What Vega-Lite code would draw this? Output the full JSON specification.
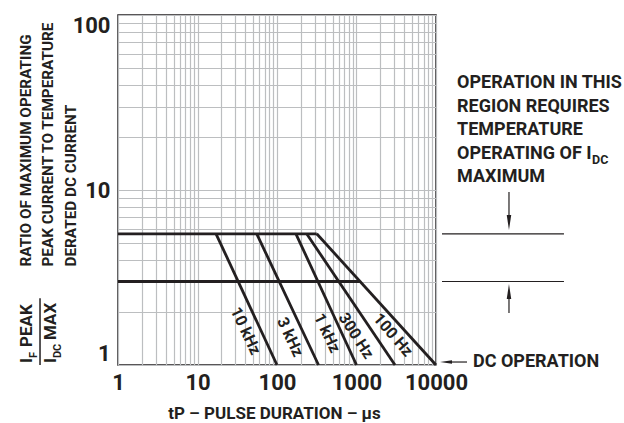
{
  "$schema": "https://vega.github.io/schema/vega-lite/v6.json",
  "width": 318,
  "height": 350,
  "autosize": {"type": "none"},
  "padding": {"left": 118, "top": 15, "right": 188, "bottom": 58},
  "background": "white",
  "config": {
    "view": {"stroke": "#231f20", "strokeWidth": 1.5},
    "font": "Roboto, Liberation Sans, sans-serif",
    "text": {"font": "Roboto, Liberation Sans, sans-serif", "fontWeight": "bold", "color": "#231f20"},
    "axis": {
      "labelFont": "Roboto, Liberation Sans, sans-serif",
      "titleFont": "Roboto, Liberation Sans, sans-serif",
      "labelFontWeight": "bold",
      "titleFontWeight": "bold",
      "labelColor": "#231f20",
      "titleColor": "#231f20",
      "labelFontSize": 22,
      "ticks": false,
      "domain": false,
      "grid": true,
      "gridColor": "#bcbec0",
      "gridWidth": 1.2,
      "labelOverlap": false
    }
  },
  "encoding": {
    "x": {
      "field": "x",
      "type": "quantitative",
      "scale": {"type": "log", "domain": [1, 10000], "nice": false},
      "axis": {
        "values": [1,2,3,4,5,6,7,8,9,10,20,30,40,50,60,70,80,90,100,200,300,400,500,600,700,800,900,1000,2000,3000,4000,5000,6000,7000,8000,9000,10000],
        "format": "d",
        "labelExpr": "datum.value==1||datum.value==10||datum.value==100||datum.value==1000||datum.value==10000 ? datum.label : ''",
        "labelPadding": 7,
        "labelFlush": false,
        "title": "tP   –  PULSE DURATION  –  µs",
        "titleFontSize": 17,
        "titleX": 156,
        "titleY": 53,
        "titleAlign": "center",
        "titleBaseline": "alphabetic"
      }
    },
    "y": {
      "field": "y",
      "type": "quantitative",
      "scale": {"type": "log", "domain": [1, 100], "nice": false},
      "axis": {
        "values": [1,2,3,4,5,6,7,8,9,10,20,30,40,50,60,70,80,90,100],
        "format": "d",
        "labelExpr": "datum.value==1||datum.value==10||datum.value==100 ? datum.label : ''",
        "labelPadding": 8,
        "labelFlush": true,
        "title": ["RATIO OF MAXIMUM OPERATING", "PEAK CURRENT TO TEMPERATURE", "DERATED DC CURRENT"],
        "titleFontSize": 15.3,
        "titleLineHeight": 22.5,
        "titleAngle": -90,
        "titleAlign": "left",
        "titleBaseline": "top",
        "titleX": -100,
        "titleY": 251
      }
    }
  },
  "layer": [
    {
      "data": {"values": [
        {"s": "a", "x": 1, "y": 5.62}, {"s": "a", "x": 316, "y": 5.62},
        {"s": "b", "x": 1, "y": 3}, {"s": "b", "x": 1107, "y": 3},
        {"s": "10 kHz", "x": 17.1, "y": 5.62}, {"s": "10 kHz", "x": 100, "y": 1},
        {"s": "3 kHz", "x": 55.6, "y": 5.62}, {"s": "3 kHz", "x": 333, "y": 1},
        {"s": "1 kHz", "x": 173, "y": 5.62}, {"s": "1 kHz", "x": 1000, "y": 1},
        {"s": "300 Hz", "x": 236, "y": 5.62}, {"s": "300 Hz", "x": 3050, "y": 1},
        {"s": "100 Hz", "x": 316, "y": 5.62}, {"s": "100 Hz", "x": 10000, "y": 1}
      ]},
      "mark": {"type": "line", "color": "#231f20", "strokeWidth": 2.8, "strokeCap": "butt"},
      "encoding": {"detail": {"field": "s"}}
    },
    {
      "data": {"values": [
        {"text": "10 kHz", "x": 40.2, "y": 1.564},
        {"text": "3 kHz", "x": 145.8, "y": 1.445},
        {"text": "1 kHz", "x": 425.6, "y": 1.523}
      ]},
      "mark": {"type": "text", "fontSize": 16, "angle": 65, "align": "center", "baseline": "middle"},
      "encoding": {"text": {"field": "text"}}
    },
    {
      "data": {"values": [{"text": "300 Hz", "x": 986, "y": 1.465}]},
      "mark": {"type": "text", "fontSize": 16, "angle": 57, "align": "center", "baseline": "middle"},
      "encoding": {"text": {"field": "text"}}
    },
    {
      "data": {"values": [{"text": "100 Hz", "x": 2878, "y": 1.483}]},
      "mark": {"type": "text", "fontSize": 16, "angle": 49, "align": "center", "baseline": "middle"},
      "encoding": {"text": {"field": "text"}}
    },
    {
      "data": {"values": [
        {"x": 11900, "x2": 407000, "y": 5.62},
        {"x": 11900, "x2": 407000, "y": 3}
      ]},
      "mark": {"type": "rule", "color": "#231f20", "strokeWidth": 1.2},
      "encoding": {"x2": {"field": "x2"}}
    },
    {
      "data": {"values": [
        {"x": 82800, "y": 9.74, "x2": 82800, "y2": 7.1},
        {"x": 82800, "y": 1.98, "x2": 82800, "y2": 2.41},
        {"x": 15000, "y": 1.04, "x2": 24550, "y2": 1.04}
      ]},
      "mark": {"type": "rule", "color": "#231f20", "strokeWidth": 1.2},
      "encoding": {"x2": {"field": "x2"}, "y2": {"field": "y2"}}
    },
    {
      "data": {"values": [{"x": 82800, "y": 6.52}]},
      "mark": {"type": "point", "shape": "M-0.3,-1L0.3,-1L0,1Z", "size": 225, "filled": true, "color": "#231f20", "opacity": 1},
      "encoding": {}
    },
    {
      "data": {"values": [{"x": 82800, "y": 2.63}]},
      "mark": {"type": "point", "shape": "M-0.3,1L0.3,1L0,-1Z", "size": 225, "filled": true, "color": "#231f20", "opacity": 1},
      "encoding": {}
    },
    {
      "data": {"values": [{"x": 13360, "y": 1.04}]},
      "mark": {"type": "point", "shape": "M1,-0.3L1,0.3L-1,0Z", "size": 144, "filled": true, "color": "#231f20", "opacity": 1},
      "encoding": {}
    },
    {
      "data": {"values": [
        {"text": "OPERATION IN THIS", "x": 18370, "y": 40.9},
        {"text": "REGION REQUIRES", "x": 18370, "y": 29.9},
        {"text": "TEMPERATURE", "x": 18370, "y": 22.0},
        {"text": "OPERATING OF I", "x": 18370, "y": 16.1},
        {"text": "MAXIMUM", "x": 18370, "y": 11.9},
        {"text": "DC OPERATION", "x": 29200, "y": 1.04}
      ]},
      "mark": {"type": "text", "fontSize": 18, "align": "left", "baseline": "middle"},
      "encoding": {"text": {"field": "text"}}
    },
    {
      "data": {"values": [{"text": "DC", "x": 917000, "y": 14.84}]},
      "mark": {"type": "text", "fontSize": 12.5, "align": "left", "baseline": "middle"},
      "encoding": {"text": {"field": "text"}}
    },
    {
      "data": {"values": [
        {"text": "I", "x": 0.0716, "y": 1.027},
        {"text": "PEAK", "x": 0.0716, "y": 1.267},
        {"text": "I", "x": 0.1437, "y": 1.027},
        {"text": "MAX", "x": 0.1437, "y": 1.389}
      ]},
      "mark": {"type": "text", "fontSize": 17, "angle": -90, "align": "left", "baseline": "middle"},
      "encoding": {"text": {"field": "text"}}
    },
    {
      "data": {"values": [
        {"text": "F", "x": 0.0878, "y": 1.096},
        {"text": "DC", "x": 0.1759, "y": 1.096}
      ]},
      "mark": {"type": "text", "fontSize": 11, "angle": -90, "align": "left", "baseline": "middle"},
      "encoding": {"text": {"field": "text"}}
    },
    {
      "data": {"values": [{"x": 0.1045, "y": 1, "y2": 2.41}]},
      "mark": {"type": "rule", "color": "#231f20", "strokeWidth": 1.5},
      "encoding": {"y2": {"field": "y2"}}
    }
  ]
}
